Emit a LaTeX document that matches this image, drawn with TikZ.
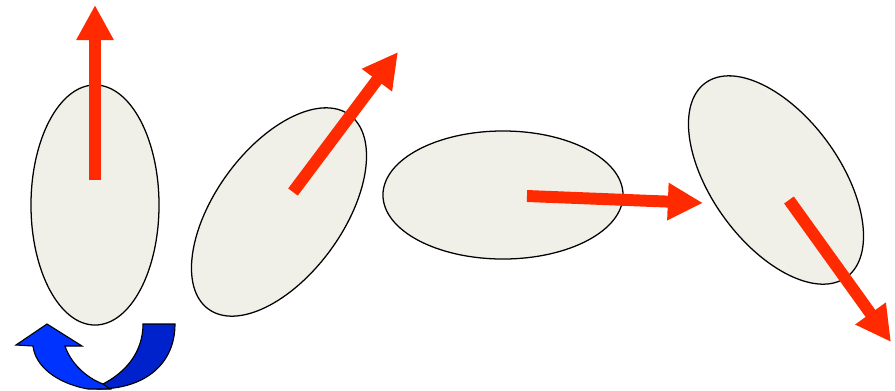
\documentclass[tikz,border=0pt]{standalone}
\usetikzlibrary{arrows.meta,shapes.geometric}
\definecolor{cellfill}{HTML}{F0F0E8}
\definecolor{spinred}{HTML}{FF2A00}
\definecolor{turnlight}{HTML}{0033FF}
\definecolor{turndark}{HTML}{0022CC}

\begin{document}
\begin{tikzpicture}[x=0.025cm, y=-0.025cm, >={Triangle[length=25pt,width=25pt]},
  cell/.style={draw, ellipse, fill=cellfill, line width=0.9pt, inner sep=0pt,
  minimum width=3.2cm, minimum height=6cm},
  spin/.style={->, draw=spinred, line width=8.5pt}]
  \useasboundingbox (0,0) rectangle (895,390);
  % cells
  \node[cell] (c1) at (95,205) {};
  \node[cell, rotate=-36] (c2) at (279,212) {};
  \node[cell, rotate=90] (c3) at (503,195) {};
  \node[cell, rotate=36] (c4) at (776,180) {};
  % spin directions
  \coordinate (s1) at (95,180);  \coordinate (t1) at (95,5);
  \coordinate (s2) at (293,192); \coordinate (t2) at (398,52);
  \coordinate (s3) at (527,196); \coordinate (t3) at (703,203);
  \coordinate (s4) at (789,200); \coordinate (t4) at (891,342);
  \draw[spin] (s1) -- (t1);
  \draw[spin] (s2) -- (t2);
  \draw[spin] (s3) -- (t3);
  \draw[spin] (s4) -- (t4);
  % turning arrow
  \draw[fill=turndark, line width=0.8pt] (143,324) -- (175,324)
    .. controls (175,364) and (145,389) .. (98,389) -- (103,384)
    .. controls (126,372) and (143,352) .. (143,324) -- cycle;
  \draw[fill=turnlight, line width=0.8pt] (16,345) -- (47,324) -- (82,346) -- (65,346)
    .. controls (71,364) and (87,378) .. (103,384) -- (110,389) -- (88,389)
    .. controls (55,383) and (35,365) .. (33,346) -- cycle;
\end{tikzpicture}
\end{document}
